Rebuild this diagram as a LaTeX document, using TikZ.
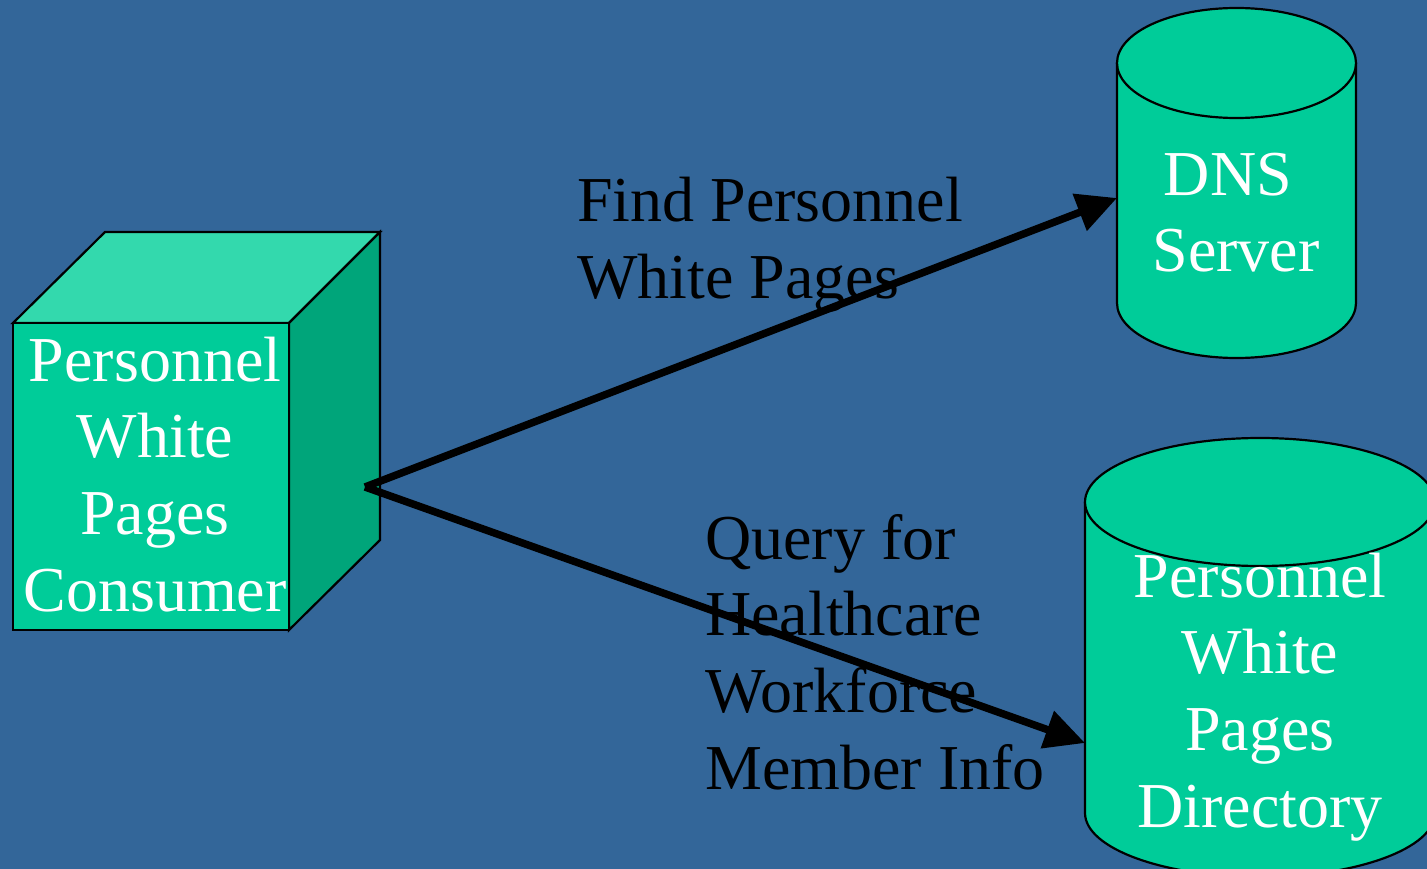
\documentclass[tikz,border=0pt]{standalone}
\usepackage{fontspec}
\setmainfont{Liberation Serif}
\usetikzlibrary{arrows.meta}
\definecolor{bg}{RGB}{51,102,153}
\definecolor{teal}{RGB}{0,204,153}
\definecolor{tealtop}{RGB}{51,217,173}
\definecolor{tealside}{RGB}{0,165,122}
\tikzset{
  shape outline/.style={draw=black, line width=2.2pt},
  big text/.style={font=\fontsize{64}{76.6}\selectfont, inner sep=0pt},
  white label/.style={big text, text=white, align=center},
  black label/.style={big text, text=black, align=left, anchor=base west},
  link/.style={line width=7.5pt, -{Triangle[length=40pt,width=38pt]}}
}
\begin{document}
\begin{tikzpicture}[x=1pt,y=-1pt]
\useasboundingbox (0,0) rectangle (1427,869);
\fill[bg] (0,0) rectangle (1427,869);
\begin{scope}
\clip (0,0) rectangle (1427,869);
% cube
\filldraw[fill=tealtop, shape outline] (13,323) -- (105,232) -- (380,232) -- (289,323) -- cycle;
\filldraw[fill=tealside, shape outline] (289,323) -- (380,232) -- (380,540) -- (289,630) -- cycle;
\filldraw[fill=teal, shape outline] (13,323) rectangle (289,630);
\node[white label, anchor=base] (cube) at (155,611) {Personnel\\White\\Pages\\Consumer};
% DNS cylinder
\filldraw[fill=teal, shape outline] (1117,63) -- (1117,303) arc[start angle=180, end angle=360, x radius=119.5, y radius=-55] -- (1356,63);
\filldraw[fill=teal, shape outline] (1236.5,63) ellipse [x radius=119.5, y radius=55];
\node[white label, anchor=base] (dns) at (1236,272) {DNS\hspace*{16pt}\\Server};
% Directory cylinder
\filldraw[fill=teal, shape outline] (1085,502) -- (1085,813) arc[start angle=180, end angle=360, x radius=175, y radius=-64] -- (1435,502);
\filldraw[fill=teal, shape outline] (1260,502) ellipse [x radius=175, y radius=64];
\node[white label, anchor=base] (dir) at (1260,827) {Personnel\\White\hspace*{16pt}\\Pages\\Directory};
\end{scope}
% labels
\node[black label] (find) at (577,298) {Find Personnel\\White Pages};
\node[black label] (query) at (705,789) {Query for\\Healthcare\\Workforce\\Member Info};
% connectors
\coordinate (src) at (365,487);
\coordinate (dnsin) at (1117,198);
\coordinate (dirin) at (1085,743);
\draw[link] (src) -- (dnsin);
\draw[link] (src) -- (dirin);
\end{tikzpicture}
\end{document}
